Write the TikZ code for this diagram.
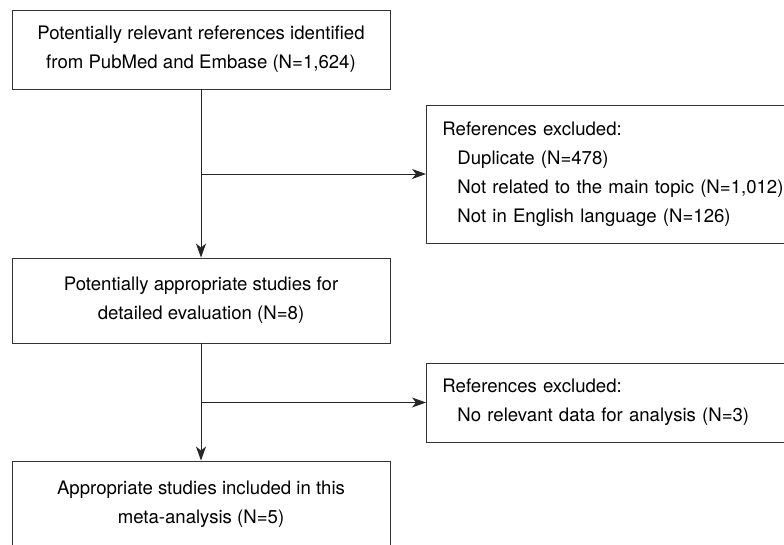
\documentclass[tikz,border=0pt]{standalone}
\usepackage{fontspec}
\setmainfont{TeX Gyre Heros}
\usetikzlibrary{arrows.meta,positioning}

\tikzset{
  flowbox/.style={draw=black!80,line width=0.9pt,align=center,inner sep=0pt,
    minimum width=378pt,font=\fontsize{18.6}{29}\selectfont},
  exclbox/.style={draw=black!80,line width=0.9pt,align=left,inner xsep=16pt,
    text width=370pt,anchor=west,font=\fontsize{18.6}{29}\selectfont},
  flowarrow/.style={-{Stealth[length=14pt,width=10pt,inset=4pt]},draw=black!85,line width=0.9pt}
}

\begin{document}
\begin{tikzpicture}[x=1pt,y=-1pt]
  \useasboundingbox (0,0) rectangle (784,544);

  \node[flowbox,minimum height=79pt] (found) at (201,49.5)
    {Potentially relevant references identified\\from PubMed and Embase (N=1,624)};
  \node[flowbox,minimum height=85pt] (eval) at (201,300.5)
    {Potentially appropriate studies for\\detailed evaluation (N=8)};
  \node[flowbox,minimum height=86pt] (incl) at (201,504)
    {Appropriate studies included in this\\meta-analysis (N=5)};

  \node[exclbox,minimum height=138pt] (excl1) at (426,174)
    {References excluded:\\
     \hspace*{15pt}Duplicate (N=478)\\
     \hspace*{15pt}Not related to the main topic (N=1,012)\\
     \hspace*{15pt}Not in English language (N=126)};
  \node[exclbox,minimum height=79pt] (excl2) at (426,402.5)
    {References excluded:\\
     \hspace*{15pt}No relevant data for analysis (N=3)};

  \coordinate (split1) at (found.south |- excl1.west);
  \coordinate (split2) at (eval.south |- excl2.west);

  \draw[flowarrow] (found.south) -- (eval.north);
  \draw[flowarrow] (split1) -- (excl1.west);
  \draw[flowarrow] (eval.south) -- (incl.north);
  \draw[flowarrow] (split2) -- (excl2.west);
\end{tikzpicture}
\end{document}
